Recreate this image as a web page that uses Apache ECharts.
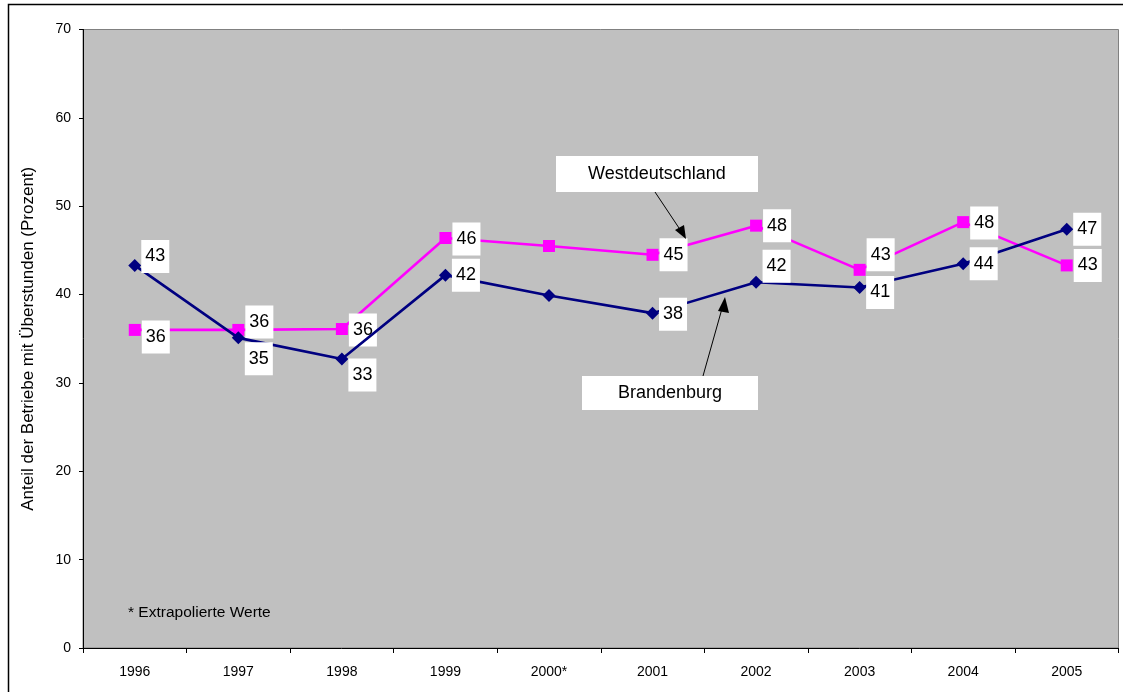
<!DOCTYPE html>
<html>
<head>
<meta charset="utf-8">
<script src="https://cdn.jsdelivr.net/npm/echarts@6/dist/echarts.min.js"></script>
<style>
html,body{margin:0;padding:0;background:#fff;}
#chart{width:1123px;height:692px;}
</style>
</head>
<body>
<div id="chart"></div>
<script>
const categories = ['1996','1997','1998','1999','2000*','2001','2002','2003','2004','2005'];
const brandenburg = [43.3, 35.1, 32.7, 42.2, 39.9, 37.9, 41.4, 40.8, 43.5, 47.4];
const westdeutschland = [36.0, 36.0, 36.1, 46.4, 45.5, 44.5, 47.8, 42.8, 48.2, 43.3];
const brandenburgLabels = ['43','35','33','42',null,'38','42','41','44','47'];
const westLabels = ['36','36','36','46',null,'45','48','43','48','43'];
const yTicks = [0,10,20,30,40,50,60,70];

// label vertical offsets (layout only)
const bOffsets = [-9, 21, 16, 0, 0, 1, -16, 5, 0, 0];
const wOffsets = [7, -8, 1, 1, 0, 0, 0, -15, 1, 0];

const font = 'Liberation Sans, Arial, sans-serif';

function build(values, labels, offsets, dist) {
  return values.map((v, i) => {
    const item = { value: v };
    if (labels[i] == null) {
      item.label = { show: false };
    } else {
      item.label = {
        show: true, position: 'right', distance: dist,
        backgroundColor: '#fff', color: '#000',
        fontFamily: font, fontSize: 18, lineHeight: 19,
        padding: [8, 4, 6, 4],
        formatter: labels[i], offset: [0, offsets[i]]
      };
    }
    return item;
  });
}

const chart = echarts.init(document.getElementById('chart'));
chart.setOption({
  animation: false,
  backgroundColor: '#fff',
  grid: {
    left: 83, top: 29.5, right: 4.5, bottom: 44,
    show: true, backgroundColor: '#C0C0C0', borderColor: '#808080', borderWidth: 1
  },
  xAxis: {
    type: 'category', data: categories, boundaryGap: true,
    axisLine: { lineStyle: { color: '#000', width: 1 } },
    axisTick: { show: true, length: 5, interval: 0, lineStyle: { color: '#000' } },
    axisLabel: { color: '#000', fontFamily: font, fontSize: 14, margin: 17, interval: 0 }
  },
  yAxis: {
    type: 'value', min: yTicks[0], max: yTicks[yTicks.length - 1], interval: 10,
    name: 'Anteil der Betriebe mit Überstunden (Prozent)',
    nameLocation: 'middle', nameGap: 46, nameRotate: 90,
    nameTextStyle: { color: '#000', fontFamily: font, fontSize: 17 },
    axisLine: { show: true, lineStyle: { color: '#000', width: 1 } },
    axisTick: { show: true, length: 4, lineStyle: { color: '#000' } },
    axisLabel: { color: '#000', fontFamily: font, fontSize: 14, margin: 12 },
    splitLine: { show: false }
  },
  series: [
    {
      name: 'Brandenburg', type: 'line',
      data: build(brandenburg, brandenburgLabels, bOffsets, 0),
      symbol: 'diamond', symbolSize: 13,
      lineStyle: { color: '#000080', width: 2.6 },
      itemStyle: { color: '#000080' },
      z: 3
    },
    {
      name: 'Westdeutschland', type: 'line',
      data: build(westdeutschland, westLabels, wOffsets, 1),
      symbol: 'rect', symbolSize: 12,
      lineStyle: { color: '#FF00FF', width: 2.6 },
      itemStyle: { color: '#FF00FF' },
      z: 2
    }
  ],
  graphic: [
    { type: 'rect', shape: { x: 8.5, y: 4.5, width: 1200, height: 800 },
      style: { fill: null, stroke: '#000', lineWidth: 1.5 }, silent: true, z: 100 },
    { type: 'text', x: 128, y: 613,
      style: { text: '* Extrapolierte Werte', font: '15.5px Liberation Sans, Arial, sans-serif', fill: '#000', verticalAlign: 'middle' }, z: 50 },
    // Westdeutschland callout
    { type: 'rect', shape: { x: 556, y: 156, width: 202, height: 36 }, style: { fill: '#fff' }, z: 50 },
    { type: 'text', x: 657, y: 174,
      style: { text: 'Westdeutschland', font: '18px Liberation Sans, Arial, sans-serif', fill: '#000', align: 'center', verticalAlign: 'middle' }, z: 51 },
    { type: 'line', shape: { x1: 655, y1: 192, x2: 683, y2: 234 }, style: { stroke: '#000', lineWidth: 1 }, z: 50 },
    { type: 'polygon', shape: { points: [[686, 239], [675, 230], [684, 225]] }, style: { fill: '#000' }, z: 50 },
    // Brandenburg callout
    { type: 'rect', shape: { x: 582, y: 376, width: 176, height: 34 }, style: { fill: '#fff' }, z: 50 },
    { type: 'text', x: 670, y: 393,
      style: { text: 'Brandenburg', font: '18px Liberation Sans, Arial, sans-serif', fill: '#000', align: 'center', verticalAlign: 'middle' }, z: 51 },
    { type: 'line', shape: { x1: 703, y1: 376, x2: 723, y2: 305 }, style: { stroke: '#000', lineWidth: 1 }, z: 50 },
    { type: 'polygon', shape: { points: [[725, 297], [718, 311], [729, 313]] }, style: { fill: '#000' }, z: 50 }
  ]
});
</script>
</body>
</html>
